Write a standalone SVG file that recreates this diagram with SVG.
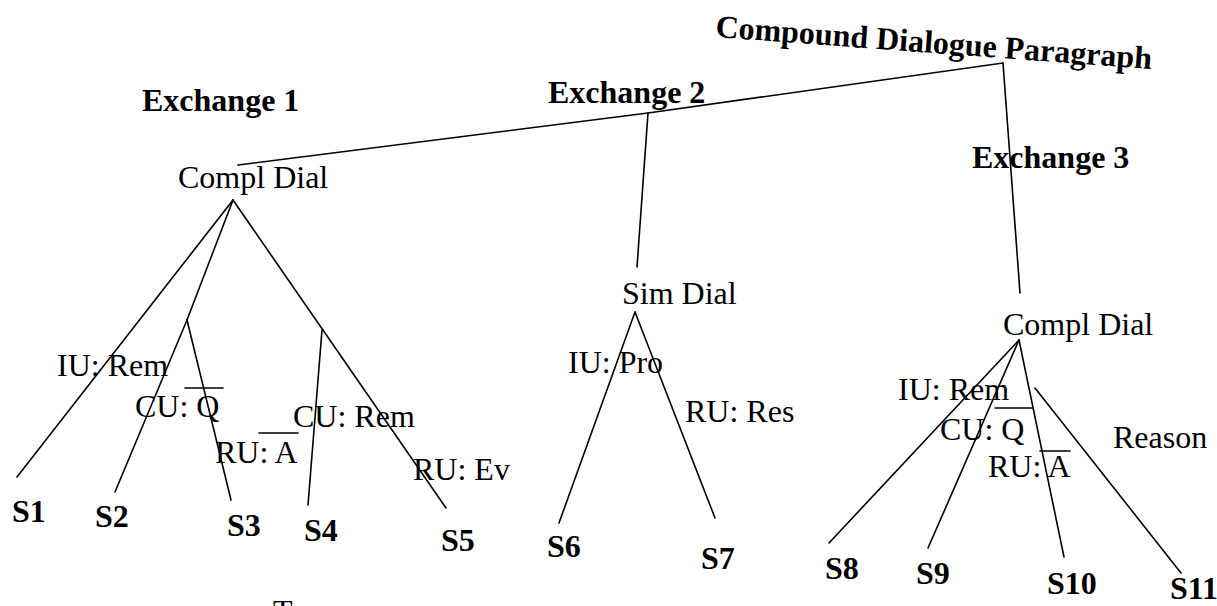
<svg xmlns="http://www.w3.org/2000/svg" width="1217" height="606" viewBox="0 0 1217 606">
  <style>
    .t { font-family: "Liberation Serif", "Times New Roman", serif; font-size: 32px; fill: #000; }
    .b { font-weight: bold; }
    .e { stroke: #000; stroke-width: 1.6; fill: none; stroke-linecap: round; }
  </style>
  <rect width="1217" height="606" fill="#fff"/>

  <!-- tree edges -->
  <g id="connectors" class="e">
    <polyline points="238,165 648,113 1003,63"/>
    <line x1="648" y1="113" x2="637" y2="267"/>
    <line x1="1003" y1="63" x2="1020" y2="293"/>
    <!-- exchange 1 -->
    <line x1="233" y1="200" x2="17" y2="477"/>
    <line x1="233" y1="200" x2="187" y2="320"/>
    <line x1="187" y1="320" x2="115" y2="492"/>
    <line x1="187" y1="320" x2="231" y2="500"/>
    <line x1="233" y1="200" x2="446" y2="508"/>
    <line x1="322" y1="330" x2="308" y2="505"/>
    <!-- exchange 2 -->
    <line x1="635" y1="312" x2="559" y2="523"/>
    <line x1="635" y1="312" x2="715" y2="518"/>
    <!-- exchange 3 -->
    <line x1="1019" y1="340" x2="829" y2="543"/>
    <line x1="1019" y1="340" x2="928" y2="548"/>
    <line x1="1019" y1="340" x2="1064" y2="557"/>
    <line x1="1035" y1="388" x2="1181" y2="573"/>
  </g>

  <g id="root"><text class="t b" x="715" y="37" transform="rotate(4.2 715 37)">Compound Dialogue Paragraph</text></g>
  <g id="exchange1"><text class="t b" x="142" y="111">Exchange 1</text></g>
  <g id="exchange2"><text class="t b" x="548" y="103">Exchange 2</text></g>
  <g id="exchange3"><text class="t b" x="972" y="168">Exchange 3</text></g>

  <g id="dial1"><text class="t" x="178" y="188">Compl Dial</text></g>
  <g id="dial2"><text class="t" x="622" y="304">Sim Dial</text></g>
  <g id="dial3"><text class="t" x="1003" y="335">Compl Dial</text></g>

  <g id="labels1">
    <text class="t" x="57" y="376">IU: Rem</text>
    <text class="t" x="135" y="417">CU: Q</text>
    <line class="e" x1="185" y1="388" x2="223" y2="388"/>
    <text class="t" x="215" y="463">RU: A</text>
    <line class="e" x1="259" y1="433" x2="298" y2="433"/>
    <text class="t" x="293" y="427">CU: Rem</text>
    <text class="t" x="413" y="480">RU: Ev</text>
  </g>
  <g id="labels2">
    <text class="t" x="568" y="373">IU: Pro</text>
    <text class="t" x="685" y="422">RU: Res</text>
  </g>
  <g id="labels3">
    <text class="t" x="898" y="400">IU: Rem</text>
    <text class="t" x="940" y="440">CU: Q</text>
    <line class="e" x1="995" y1="408" x2="1032" y2="408"/>
    <text class="t" x="988" y="477">RU: A</text>
    <line class="e" x1="1040" y1="451" x2="1070" y2="451"/>
    <text class="t" x="1113" y="448">Reason</text>
  </g>

  <g id="leaves">
    <g id="s1"><text class="t b" x="12" y="522">S1</text></g>
    <g id="s2"><text class="t b" x="95" y="527">S2</text></g>
    <g id="s3"><text class="t b" x="227" y="536">S3</text></g>
    <g id="s4"><text class="t b" x="304" y="541">S4</text></g>
    <g id="s5"><text class="t b" x="441" y="551">S5</text></g>
    <g id="s6"><text class="t b" x="547" y="557">S6</text></g>
    <g id="s7"><text class="t b" x="701" y="569">S7</text></g>
    <g id="s8"><text class="t b" x="825" y="579">S8</text></g>
    <g id="s9"><text class="t b" x="916" y="584">S9</text></g>
    <g id="s10"><text class="t b" x="1047" y="594">S10</text></g>
    <g id="s11"><text class="t b" x="1170" y="599">S11</text></g>
  </g>

  <g id="caption"><text class="t" x="273" y="622">T</text></g>
</svg>
